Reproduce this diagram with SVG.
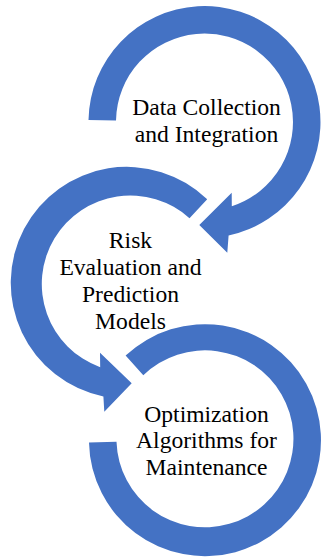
<svg xmlns="http://www.w3.org/2000/svg" width="322" height="559" viewBox="0 0 322 559">
<style>
.arrow{fill:#4472C4;stroke:none}
.lbl{font-family:"Liberation Serif","Times New Roman",serif;font-size:23.6px;fill:#000;text-anchor:middle}
</style>
<rect width="322" height="559" fill="#fff"/>
<g id="connectors">
<path id="arrow1" class="arrow" d="M 88.5,120 A 116 116 0 1 1 228.6,235.5 L 227.3,252.7 L 199.3,225 L 231.7,192.7 L 231.8,206.2 A 88.5 88.5 0 1 0 116,120.5 Z"/>
<path id="arrow2" class="arrow" d="M 207.2,199.3 A 116 116 0 1 0 103.4,396.5 L 104.3,411.7 L 131.7,383.3 L 100,352.7 L 100.2,367.2 A 88.5 88.5 0 1 1 189.5,218.2 Z"/>
<path id="arrow3" class="arrow" d="M 125.6,355.6 A 116 116 0 1 1 89,442.5 L 116.5,441.8 A 88.5 88.5 0 1 0 143.3,375.3 Z"/>
</g>
<g id="node1">
<text class="lbl" x="206.5" y="115">Data Collection</text>
<text class="lbl" x="206.5" y="141.7">and Integration</text>
</g>
<g id="node2">
<text class="lbl" x="130.5" y="248.3">Risk</text>
<text class="lbl" x="130.5" y="275.1">Evaluation and</text>
<text class="lbl" x="130.5" y="301.9">Prediction</text>
<text class="lbl" x="130.5" y="328.7">Models</text>
</g>
<g id="node3">
<text class="lbl" x="206.5" y="421.7">Optimization</text>
<text class="lbl" x="206.5" y="448.4">Algorithms for</text>
<text class="lbl" x="206.5" y="475.1">Maintenance</text>
</g>
</svg>
